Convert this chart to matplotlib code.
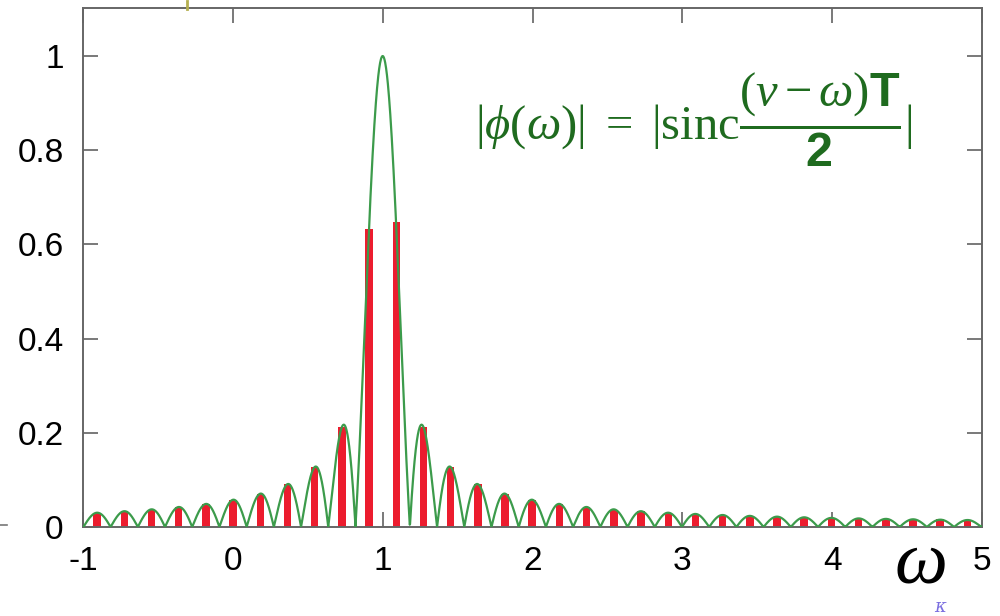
import numpy as np
import matplotlib
matplotlib.use("Agg")
import matplotlib.pyplot as plt

# maths: serif text, bold sans for T and 2
plt.rcParams['mathtext.fontset'] = 'custom'
plt.rcParams['mathtext.rm'] = 'Liberation Serif'
plt.rcParams['mathtext.it'] = 'Liberation Serif:italic'
plt.rcParams['mathtext.bf'] = 'Liberation Sans:bold'

# parametres de la courbe |sinc((nu - w) T / 2)|
nu = 1.0
T = 34.6

# barres rouges
barres_x = [-0.906, -0.724, -0.543, -0.361, -0.180, 0.002, 0.183, 0.365, 0.546, 0.728,
            0.909, 1.091, 1.272, 1.454, 1.635, 1.817, 1.998, 2.180, 2.361, 2.543,
            2.724, 2.906, 3.087, 3.269, 3.450, 3.632, 3.813, 3.995, 4.176, 4.358,
            4.539, 4.721, 4.902]
barres_h = [0.030, 0.033, 0.037, 0.042, 0.049, 0.058, 0.071, 0.091, 0.127, 0.212,
            0.632, 0.647, 0.212, 0.127, 0.091, 0.071, 0.058, 0.049, 0.042, 0.037,
            0.033, 0.030, 0.028, 0.025, 0.023, 0.022, 0.020, 0.019, 0.018, 0.017,
            0.016, 0.016, 0.015]

xticks = [-1, 0, 1, 2, 3, 4, 5]
yticks = [0, 0.2, 0.4, 0.6, 0.8, 1]
ylabels = ["0", "0.2", "0.4", "0.6", "0.8", "1"]

w = np.linspace(-1, 5, 3000)
phi = np.abs(np.sinc((nu - w) * T / 2 / np.pi))

fig = plt.figure(figsize=(10, 6.16), dpi=100)
ax = fig.add_axes([0.083, 0.1445, 0.899, 0.8425])

ax.bar(barres_x, barres_h, width=0.05, color='#ec1c2e', zorder=2)
ax.plot(w, phi, color='#3c9b4b', lw=1.6, zorder=3)

ax.set_xlim(-1, 5)
ax.set_ylim(0, 1.102)
ax.set_xticks(xticks)
ax.set_xticklabels([str(x) for x in xticks])
ax.set_yticks(yticks)
ax.set_yticklabels(ylabels)

for s in ax.spines.values():
    s.set_color('#666666')
    s.set_linewidth(1.4)
ax.tick_params(direction='in', length=11, width=1.1, color='#555555',
               top=True, right=True, labelsize=24, pad=14)
for lab in ax.get_xticklabels() + ax.get_yticklabels():
    lab.set_fontfamily('Liberation Sans')

ax.text(0.923, 0.785,
        r'$|\phi(\omega)|\ =\ |\mathrm{sinc}\dfrac{(\nu - \omega)\mathbf{T}}{\mathbf{2}}|$',
        transform=ax.transAxes, ha='right', va='center', fontsize=35, color='#1f6b1f')

fig.text(0.92, 0.055, r'$\omega$', fontsize=54, ha='center', va='baseline', color='black')
fig.text(0.94, 0.0, 'κ', fontsize=13, ha='center', va='bottom', color='#7b6fe0',
         style='italic', family='DejaVu Serif')
fig.add_artist(plt.Line2D([0.0, 0.007], [0.147, 0.147], color='#777777', lw=1.2))
fig.add_artist(plt.Line2D([0.187, 0.187], [0.985, 0.998], color='#b5b050', lw=2))

fig.savefig('out.png', dpi=100)
